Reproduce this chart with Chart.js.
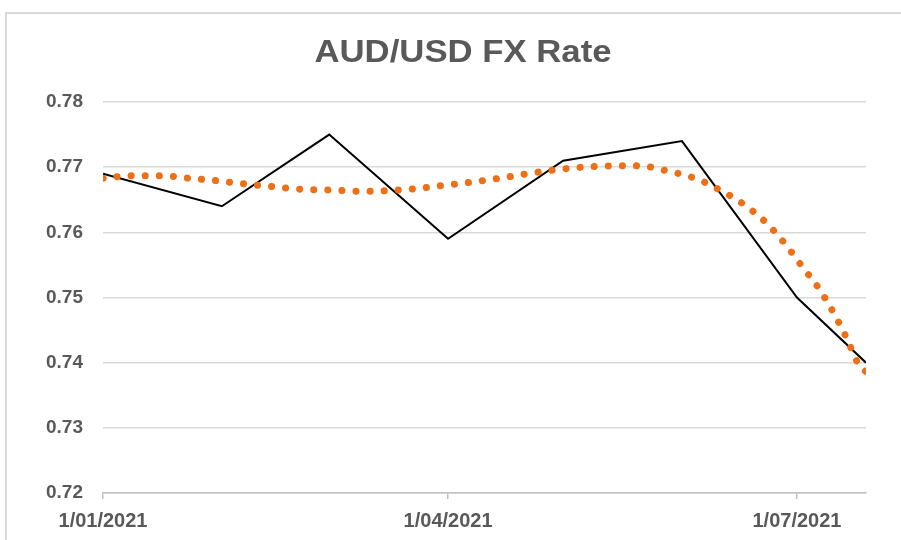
<!DOCTYPE html>
<html>
<head>
<meta charset="utf-8">
<title>AUD/USD FX Rate</title>
<script src="https://cdn.jsdelivr.net/npm/chart.js@4"></script>
<style>
  html, body { margin: 0; padding: 0; background: #fff; overflow: hidden; }
  #frame { position: absolute; left: 5px; top: 12px; width: 1000px; height: 600px; border: 2px solid #d9d9d9; }
  #wrap { position: absolute; left: 0; top: 0; width: 901px; height: 540px; }
</style>
</head>
<body>
<div id="frame"></div>
<div id="wrap"><canvas id="myChart" width="901" height="540"></canvas></div>
<script>
// monthly AUD/USD rates (last point is mid July)
var dates = ['2021-01-01', '2021-02-01', '2021-03-01', '2021-04-01', '2021-05-01', '2021-06-01', '2021-07-01', '2021-07-19'];
var fxRate = [0.769, 0.764, 0.775, 0.759, 0.771, 0.774, 0.750, 0.740];

// orange dotted trendline (days since 1 Jan 2021)
var trendDays = [0, 7.6, 15.1, 22.4, 30, 37.3, 44.6, 51.9, 59.5, 66.8, 74.3, 81.6, 88.9, 96.2, 103.5, 110.8, 118.1, 125.2, 132.7, 140, 147.3, 154.4, 160.9, 167.1, 172.9, 177.8, 182.3, 186.7, 190.6, 194, 197.1, 199];
var trendValues = [0.7683, 0.7687, 0.7687, 0.7683, 0.7679, 0.7674, 0.7670, 0.7666, 0.7665, 0.7663, 0.7664, 0.7667, 0.7672, 0.7677, 0.7683, 0.7690, 0.7696, 0.7700, 0.7702, 0.7702, 0.7694, 0.7683, 0.7665, 0.7643, 0.7615, 0.7583, 0.7548, 0.7514, 0.7476, 0.7437, 0.7397, 0.7386];

// x axis tick labels
var tickDates = ['2021-01-01', '2021-04-01', '2021-07-01'];
var tickLabels = ['1/01/2021', '1/04/2021', '1/07/2021'];

var yMin = 0.72, yMax = 0.78, yStep = 0.01;
var chartTitle = 'AUD/USD FX Rate';

function dayOf(s) {
  var p = s.split('-');
  return (Date.UTC(+p[0], +p[1] - 1, +p[2]) - Date.UTC(2021, 0, 1)) / 86400000;
}

var fxPoints = [];
for (var i = 0; i < dates.length; ++i) {
  fxPoints.push({ x: dayOf(dates[i]), y: fxRate[i] });
}
var trendPoints = [];
for (var j = 0; j < trendDays.length; ++j) {
  trendPoints.push({ x: trendDays[j], y: trendValues[j] });
}
var tickDays = tickDates.map(dayOf);

var fontFamily = "'Liberation Sans', Arial, sans-serif";
var textColor = '#595959';

// title drawn by hand: Excel centres it on the whole frame and the font is a bit wide
var titlePlugin = {
  id: 'excelTitle',
  afterDraw: function(chart) {
    var c = chart.ctx;
    c.save();
    c.font = 'bold 31px ' + fontFamily;
    c.fillStyle = textColor;
    c.textAlign = 'center';
    c.textBaseline = 'alphabetic';
    c.translate(463, 62);
    c.scale(1.12, 1);
    c.fillText(chartTitle, 0, 0);
    c.restore();
  }
};

var ctx = document.getElementById('myChart').getContext('2d');
var myChart = new Chart(ctx, {
  type: 'line',
  data: {
    datasets: [
      { label: 'Trend', data: trendPoints, borderColor: '#EC7018', borderWidth: 7,
        borderDash: [0.1, 14], borderCapStyle: 'round', pointRadius: 0,
        cubicInterpolationMode: 'monotone', fill: false },
      { label: 'AUD/USD', data: fxPoints, borderColor: '#000000', borderWidth: 2,
        pointRadius: 0, tension: 0, fill: false }
    ]
  },
  options: {
    responsive: false,
    animation: false,
    devicePixelRatio: 1,
    layout: { padding: { left: 0, right: 35, top: 102, bottom: 0 } },
    plugins: {
      legend: { display: false },
      tooltip: { enabled: false },
      title: { display: false }
    },
    scales: {
      x: {
        type: 'linear',
        min: 0,
        max: dayOf(dates[dates.length - 1]),
        afterBuildTicks: function(axis) {
          axis.ticks = tickDays.map(function(d) { return { value: d }; });
        },
        afterFit: function(axis) { axis.height = 47; },
        ticks: {
          autoSkip: false,
          maxRotation: 0,
          padding: 10,
          color: textColor,
          font: { family: fontFamily, size: 20, weight: 'bold' },
          callback: function(v) {
            var k = tickDays.indexOf(v);
            return k >= 0 ? tickLabels[k] : '';
          }
        },
        grid: { drawOnChartArea: false, drawTicks: true, tickLength: 6, color: '#bfbfbf', lineWidth: 1.5 },
        border: { color: '#bfbfbf', width: 1.5 }
      },
      y: {
        min: yMin,
        max: yMax,
        afterFit: function(axis) { axis.width = 103; },
        ticks: {
          stepSize: yStep,
          padding: 20,
          color: textColor,
          font: { family: fontFamily, size: 19, weight: 'bold' },
          callback: function(v) { return v.toFixed(2); }
        },
        grid: { color: '#d9d9d9', lineWidth: 1.5, drawTicks: false },
        border: { display: false }
      }
    }
  },
  plugins: [titlePlugin]
});
</script>
</body>
</html>
